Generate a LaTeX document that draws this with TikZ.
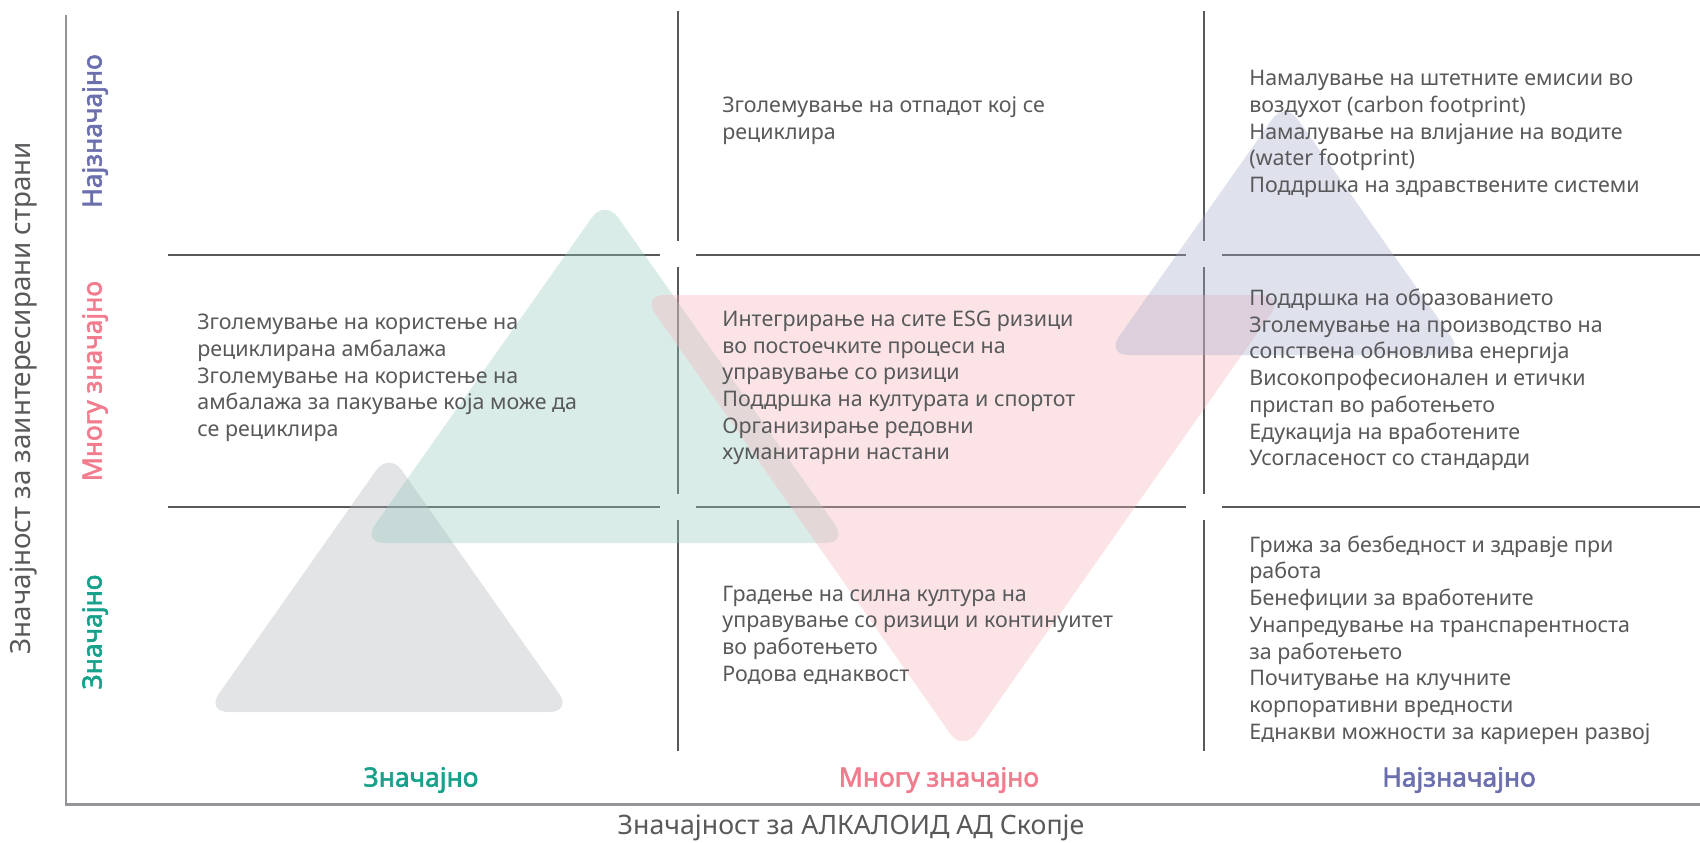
\documentclass[tikz,border=0pt]{standalone}
\usepackage{fontspec}
\setmainfont{Noto Sans}
\newfontfamily\levelfont{Noto Sans}[FakeBold=2.2]

\definecolor{txtgray}{HTML}{58595B}
\definecolor{axisgray}{HTML}{939598}
\definecolor{lowgreen}{HTML}{17A08A}
\definecolor{midpink}{HTML}{F17C8E}
\definecolor{topblue}{HTML}{6B6FAE}
\definecolor{trigray}{HTML}{AFB2B8}
\definecolor{trigreen}{HTML}{92C9BD}
\definecolor{tripink}{HTML}{F6B2B8}
\definecolor{triblue}{HTML}{A4A9C9}

\begin{document}
\begin{tikzpicture}[x=0.02cm,y=-0.02cm,
    cell/.style={anchor=west,align=left,inner sep=0pt,text=txtgray,font=\fontsize{12.2}{15.2}\selectfont},
    level/.style={inner sep=0pt,font=\levelfont\fontsize{15}{18}\selectfont},
    axistitle/.style={inner sep=0pt,text=txtgray,font=\fontsize{15.2}{18}\selectfont},
    gridline/.style={txtgray,line width=1.13pt},
    tri/.style={opacity=0.35,rounded corners=0.45cm}]
    \useasboundingbox (0,0) rectangle (1700,842);

    % Axes
    \coordinate (top) at (66,15);
    \coordinate (origin) at (66,804);
    \coordinate (right) at (1700,804);
    \draw[axisgray,line width=1.7pt] (top) -- (origin) -- (right);

    % Grid lines, broken at the crossings
    \foreach \x in {678,1204} {
        \draw[gridline] (\x,11) -- (\x,241);
        \draw[gridline] (\x,267) -- (\x,494);
        \draw[gridline] (\x,520) -- (\x,751);
    }
    \foreach \y in {255,507} {
        \draw[gridline] (168,\y) -- (660,\y);
        \draw[gridline] (696,\y) -- (1186,\y);
        \draw[gridline] (1222,\y) -- (1700,\y);
    }

    % Triangles
    \fill[tri,trigray] (206,712) -- (389,452) -- (572,712) -- cycle;
    \fill[tri,trigreen] (362,543) -- (605,199) -- (848,543) -- cycle;
    \fill[tri,tripink] (642,295) -- (1284,295) -- (963,752) -- cycle;
    \fill[tri,triblue] (1106,355) -- (1285,101) -- (1464,355) -- cycle;

    % Cells
    \node[cell] (waste) at (722,121) {Зголемување на отпадот кој се\\рециклира};
    \node[cell] (emissions) at (1249,134) {Намалување на штетните емисии во\\воздухот (carbon footprint)\\Намалување на влијание на водите\\(water footprint)\\Поддршка на здравствените системи};
    \node[cell] (packaging) at (197,378) {Зголемување на користење на\\рециклирана амбалажа\\Зголемување на користење на\\амбалажа за пакување која може да\\се рециклира};
    \node[cell] (esg) at (722,388) {Интегрирање на сите ESG ризици\\во постоечките процеси на\\управување со ризици\\Поддршка на културата и спортот\\Организирање редовни\\хуманитарни настани};
    \node[cell] (education) at (1249,380) {Поддршка на образованието\\Зголемување на производство на\\сопствена обновлива енергија\\Високопрофесионален и етички\\пристап во работењето\\Едукација на вработените\\Усогласеност со стандарди};
    \node[cell] (riskculture) at (722,635) {Градење на силна култура на\\управување со ризици и континуитет\\во работењето\\Родова еднаквост};
    \node[cell] (safety) at (1249,640) {Грижа за безбедност и здравје при\\работа\\Бенефиции за вработените\\Унапредување на транспарентноста\\за работењето\\Почитување на клучните\\корпоративни вредности\\Еднакви можности за кариерен развој};

    % Levels
    \node[level,text=lowgreen] (xlow) at (421,780) {Значајно};
    \node[level,text=midpink] (xmid) at (939,780) {Многу значајно};
    \node[level,text=topblue] (xtop) at (1459,780) {Најзначајно};
    \node[level,text=topblue,rotate=90] (ytop) at (95,131) {Најзначајно};
    \node[level,text=midpink,rotate=90] (ymid) at (95,381) {Многу значајно};
    \node[level,text=lowgreen,rotate=90] (ylow) at (95,632) {Значајно};

    % Axis titles
    \node[axistitle,rotate=90,font=\fontsize{15.8}{18}\selectfont] (ytitle) at (24,398) {Значајност за заинтересирани страни};
    \node[axistitle] (xtitle) at (851,828) {Значајност за АЛКАЛОИД АД Скопје};
\end{tikzpicture}
\end{document}
